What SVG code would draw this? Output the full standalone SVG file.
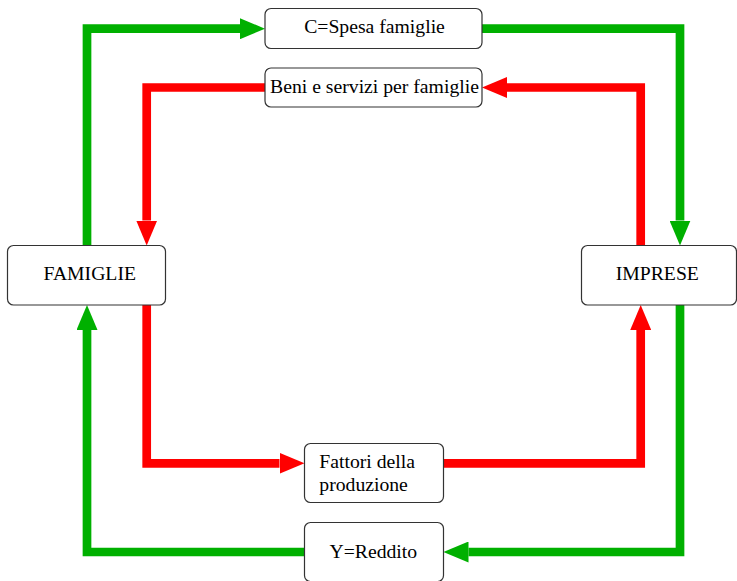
<svg xmlns="http://www.w3.org/2000/svg" width="737" height="581" viewBox="0 0 737 581">
  <style>
    .box { fill: #ffffff; stroke: #333333; stroke-width: 1.2; }
    .label { font-family: "Liberation Serif", "Times New Roman", serif; font-size: 19.7px; fill: #000000; }
    .mid { text-anchor: middle; }
    .flow { fill: none; stroke-width: 8.7; stroke-linejoin: miter; stroke-linecap: butt; }
    .money { stroke: #00b000; }
    .goods { stroke: #ff0000; }
  </style>
  <defs>
    <marker id="headGreen" markerUnits="userSpaceOnUse" markerWidth="25" markerHeight="21" refX="0" refY="10.5" orient="auto" viewBox="0 0 25 21">
      <path d="M0,0 L25,10.5 L0,21 Z" fill="#00b000"/>
    </marker>
    <marker id="headRed" markerUnits="userSpaceOnUse" markerWidth="25" markerHeight="21" refX="0" refY="10.5" orient="auto" viewBox="0 0 25 21">
      <path d="M0,0 L25,10.5 L0,21 Z" fill="#ff0000"/>
    </marker>
  </defs>

  <!-- circular flows between households and firms -->
  <g id="connectors">
    <!-- money flows -->
    <path class="flow money" d="M87,245.5 V28.7 H240" marker-end="url(#headGreen)"/>
    <path class="flow money" d="M482,28.7 H680 V220.5" marker-end="url(#headGreen)"/>
    <path class="flow money" d="M680,305 V552 H468.5" marker-end="url(#headGreen)"/>
    <path class="flow money" d="M304.5,552 H87 V330" marker-end="url(#headGreen)"/>
    <!-- real flows -->
    <path class="flow goods" d="M265,87.5 H146.7 V220.5" marker-end="url(#headRed)"/>
    <path class="flow goods" d="M640.7,245.5 V87.5 H507" marker-end="url(#headRed)"/>
    <path class="flow goods" d="M146.7,305 V463.3 H279.5" marker-end="url(#headRed)"/>
    <path class="flow goods" d="M443.5,463.3 H640.7 V330" marker-end="url(#headRed)"/>
  </g>

  <g id="spesa">
    <rect class="box" x="265" y="8.5" width="217" height="40" rx="6"/>
    <text class="label mid" x="374.5" y="33.3">C=Spesa famiglie</text>
  </g>

  <g id="beni">
    <rect class="box" x="265" y="68" width="217" height="39" rx="6"/>
    <text class="label mid" x="374.5" y="92.7">Beni e servizi per famiglie</text>
  </g>

  <g id="famiglie">
    <rect class="box" x="7.5" y="245.5" width="158" height="59.5" rx="6"/>
    <text class="label mid" x="89.7" y="280">FAMIGLIE</text>
  </g>

  <g id="imprese">
    <rect class="box" x="581.5" y="245.5" width="155" height="59.5" rx="6"/>
    <text class="label mid" x="657.3" y="280">IMPRESE</text>
  </g>

  <g id="fattori">
    <rect class="box" x="304.5" y="443.5" width="139" height="59" rx="6"/>
    <text class="label" x="319.3" y="467.7">Fattori della</text>
    <text class="label" x="319.3" y="490.5">produzione</text>
  </g>

  <g id="reddito">
    <rect class="box" x="304.5" y="522.5" width="139" height="59" rx="6"/>
    <text class="label mid" x="373.3" y="557.7">Y=Reddito</text>
  </g>
</svg>
